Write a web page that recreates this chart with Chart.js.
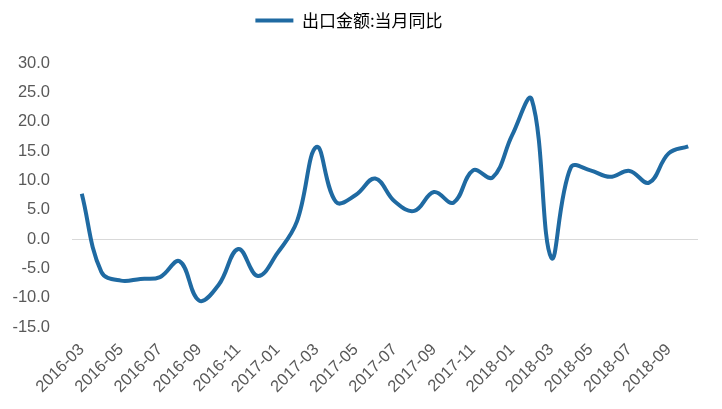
<!DOCTYPE html>
<html>
<head>
<meta charset="utf-8">
<script src="https://cdn.jsdelivr.net/npm/chart.js@4/dist/chart.umd.min.js"></script>
<style>
  html, body { margin: 0; padding: 0; background: #ffffff; }
  #wrap { width: 722px; height: 409px; position: relative; }
</style>
</head>
<body>
<div id="wrap"><canvas id="c" width="722" height="409"></canvas></div>
<script>
const months = [
  "2016-03","2016-04","2016-05","2016-06","2016-07","2016-08","2016-09","2016-10","2016-11","2016-12",
  "2017-01","2017-02","2017-03","2017-04","2017-05","2017-06","2017-07","2017-08","2017-09","2017-10","2017-11","2017-12",
  "2018-01","2018-02","2018-03","2018-04","2018-05","2018-06","2018-07","2018-08","2018-09","2018-10"
];
const shownTicks = [
  "2016-03","2016-05","2016-07","2016-09","2016-11","2017-01","2017-03","2017-05",
  "2017-07","2017-09","2017-11","2018-01","2018-03","2018-05","2018-07","2018-09"
];
const exportYoY = [
  7.7, -5.6, -7.1, -6.8, -6.5, -3.8, -10.5, -7.8, -1.7, -6.3,
  -2.4, 3.0, 15.7, 6.3, 7.5, 10.3, 6.4, 4.8, 8.0, 6.2, 11.7, 10.5,
  17.7, 23.8, -3.2, 12.2, 11.7, 10.6, 11.6, 9.6, 14.6, 15.8
];
const seriesName = "出口金额:当月同比";
const yMin = -15, yMax = 30, yStep = 5;

const legendSpacer = {
  id: 'legendSpacer',
  beforeLayout(chart) {
    const lg = chart.legend;
    if (lg && !lg._patched) {
      const orig = lg.fit;
      lg.fit = function () { orig.call(this); this.height += 24; };
      lg._patched = true;
    }
  }
};

new Chart(document.getElementById('c'), {
  type: 'line',
  data: {
    labels: months,
    datasets: [{
      label: seriesName,
      data: exportYoY,
      borderColor: '#1f6aa2',
      backgroundColor: '#1f6aa2',
      borderWidth: 4,
      pointRadius: 0,
      pointHoverRadius: 0,
      tension: 0.4,
      fill: false
    }]
  },
  options: {
    responsive: false,
    animation: false,
    devicePixelRatio: 1,
    layout: { padding: { top: 0, right: 24, bottom: 0, left: 0 } },
    plugins: {
      legend: {
        display: true,
        position: 'top',
        labels: {
          usePointStyle: true,
          pointStyle: 'line',
          pointStyleWidth: 38,
          padding: 12,
          color: '#000000',
          font: { family: '"Noto Sans CJK SC", "Noto Sans", sans-serif', size: 17 }
        }
      },
      tooltip: { enabled: false }
    },
    scales: {
      x: {
        offset: true,
        grid: { display: false },
        border: { display: false },
        afterFit(scale) { scale.height = 82; },
        ticks: {
          autoSkip: false,
          maxRotation: 45,
          minRotation: 45,
          padding: 5,
          color: '#595959',
          font: { family: '"Liberation Sans", Arial, sans-serif', size: 16.5 },
          callback(value, index) {
            const lbl = months[index];
            return shownTicks.includes(lbl) ? lbl : '';
          }
        }
      },
      y: {
        min: yMin,
        max: yMax,
        afterFit(scale) { scale.width = 72; },
        border: { display: false },
        grid: {
          drawTicks: false,
          lineWidth: 1,
          color: (ctx) => (ctx.tick && ctx.tick.value === 0 ? '#d9d9d9' : 'rgba(0,0,0,0)')
        },
        ticks: {
          stepSize: yStep,
          padding: 22,
          color: '#595959',
          font: { family: '"Liberation Sans", Arial, sans-serif', size: 16.5 },
          callback: (v) => Number(v).toFixed(1)
        }
      }
    }
  },
  plugins: [legendSpacer]
});
</script>
</body>
</html>
